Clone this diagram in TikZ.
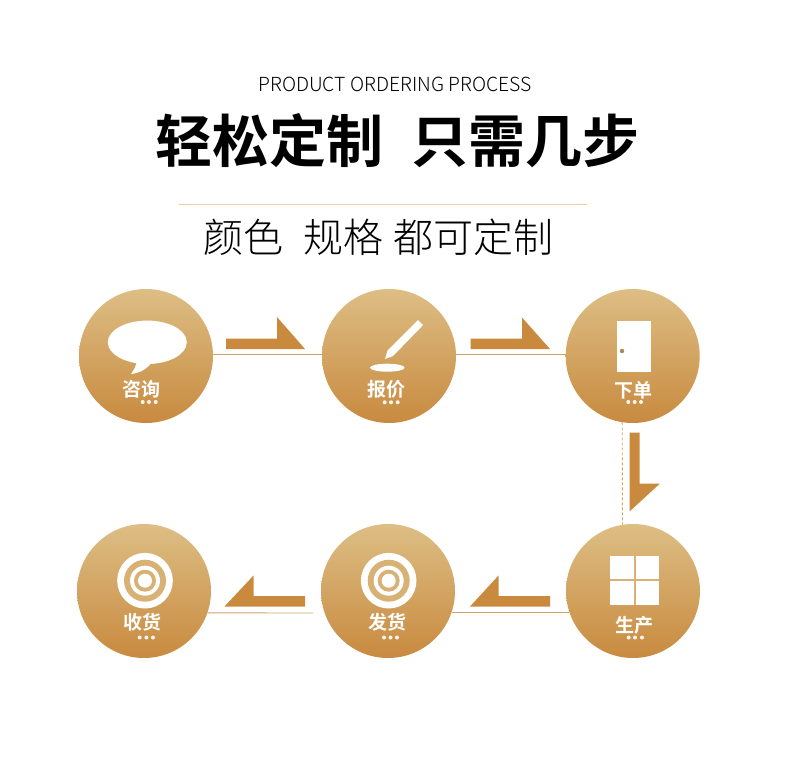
\documentclass[tikz,border=0pt]{standalone}
\usepackage{fontspec}
\setmainfont{Noto Sans CJK SC Light}
\newfontfamily\cjkbold{Noto Sans CJK SC Bold}
\usetikzlibrary{positioning}
\definecolor{goldtop}{HTML}{DDBE85}
\definecolor{goldbottom}{HTML}{C88A3F}
\definecolor{arrowgold}{HTML}{C98A3E}
\definecolor{linegold}{HTML}{CFA364}
\definecolor{rulegold}{HTML}{E6CFA6}
\tikzset{
  stepdisc/.style={circle,minimum size=134pt,inner sep=0pt,top color=goldtop,bottom color=goldbottom},
  steplabel/.style={text=white,font=\cjkbold\fontsize{19}{19}\selectfont,inner sep=0pt},
  icon/.style={fill=white,draw=none},
  dot/.style={fill=white,opacity=.9},
  thinline/.style={draw=linegold,line width=.9pt},
  turnarrow/.style={fill=arrowgold,draw=none},
  ringgold/.style={fill=goldtop!75!goldbottom}
}
\begin{document}
\begin{tikzpicture}[x=1pt,y=-1pt]
\useasboundingbox (0,0) rectangle (790,762);

% heading
\node[inner sep=0pt] (subtitle) at (395,84) {\fontsize{19.4}{19}\selectfont PRODUCT ORDERING PROCESS};
\node[inner sep=0pt,font=\cjkbold\fontsize{57}{57}\selectfont] (titleleft) at (269,141) {轻松定制};
\node[inner sep=0pt,font=\cjkbold\fontsize{57}{57}\selectfont] (titleright) at (525.5,141) {只需几步};
\coordinate (ruleleft) at (179,204.5);
\coordinate (ruleright) at (587,204.5);
\draw[draw=rulegold,line width=.8pt] (ruleleft) -- (ruleright);
\node[inner sep=0pt,font=\fontsize{40}{40}\selectfont] (colour) at (243.5,237) {颜色};
\node[inner sep=0pt,font=\fontsize{40}{40}\selectfont] (spec) at (343,237) {规格};
\node[inner sep=0pt,font=\fontsize{40}{40}\selectfont] (custom) at (473,237) {都可定制};

% discs
\node[stepdisc] (ask) at (146,356) {};
\node[stepdisc] (quote) at (389,356) {};
\node[stepdisc] (order) at (632.7,356) {};
\node[stepdisc] (make) at (633,591) {};
\node[stepdisc] (send) at (388,591) {};
\node[stepdisc] (receive) at (144,591) {};

% connectors
\coordinate (sendstop) at (313,613);
\draw[thinline] (ask.1) -- (quote.179);
\draw[thinline] (quote.1) -- (order.179);
\draw[thinline,densely dashed] (order.-99) -- (make.99);
\draw[thinline] (make.199) -- (send.-19);
\draw[thinline] (sendstop) -- (receive.-19);

% arrows
\fill[turnarrow] (226,338.5) -- (277,338.5) -- (277,317) -- (305,349) -- (226,349) -- cycle;
\fill[turnarrow] (470.5,338.5) -- (522,338.5) -- (522,317.5) -- (550,349) -- (470.5,349) -- cycle;
\fill[turnarrow] (639.5,432.5) -- (639.5,483.5) -- (660,483.5) -- (629.5,511.5) -- (629.5,432.5) -- cycle;
\fill[turnarrow] (550,596) -- (498.5,596) -- (498.5,575.5) -- (470,606.5) -- (550,606.5) -- cycle;
\fill[turnarrow] (305,596) -- (253.5,596) -- (253.5,575.5) -- (224.5,606.5) -- (305,606.5) -- cycle;

% speech bubble
\fill[icon] (147.3,342.3) ellipse (39.5 and 21.7);
\fill[icon] (137,358) .. controls (137,365) and (134,370) .. (131,374) .. controls (140,373) and (147,369) .. (152,362) -- cycle;
\node[steplabel] (asklabel) at (141,389) {咨询};
\fill[dot] (142.7,402) circle (2);
\fill[dot] (149,402) circle (2);
\fill[dot] (155.7,402) circle (2);

% pen
\fill[icon] (385,359) -- (387.5,350.5) -- (418,320.2) -- (423,325.2) -- (393,356) -- cycle;
\fill[icon] (387.3,367.7) ellipse (17.3 and 4);
\node[steplabel] (quotelabel) at (386.7,389.3) {报价};
\fill[dot] (384.7,402.3) circle (2);
\fill[dot] (391,402.3) circle (2);
\fill[dot] (397.7,402.3) circle (2);

% door
\fill[icon] (617,321) rectangle (651,372);
\fill[goldbottom!60!gray] (622,351) circle (2.2);
\node[steplabel] (orderlabel) at (633.3,390) {下单};
\fill[dot] (628.3,402) circle (2);
\fill[dot] (634.7,402) circle (2);
\fill[dot] (641,402) circle (2);

% window
\fill[icon] (610,555.7) rectangle (659.3,605);
\fill[goldtop!75!goldbottom] (633.8,555.7) rectangle (635.6,605);
\fill[goldtop!75!goldbottom] (610,579.4) rectangle (659.3,581.2);
\node[steplabel] (makelabel) at (634,625) {生产};
\fill[dot] (628.7,637.5) circle (2);
\fill[dot] (635,637.5) circle (2);
\fill[dot] (642,637.5) circle (2);

% targets
\fill[icon] (388.7,580.7) circle (27.8);
\fill[ringgold] (388.7,580.7) circle (21);
\fill[icon] (388.7,580.7) circle (15);
\fill[ringgold] (388.7,580.7) circle (11);
\fill[icon] (388.7,580.7) circle (7);
\node[steplabel] (sendlabel) at (387.7,622.3) {发货};
\fill[dot] (384,637.5) circle (2);
\fill[dot] (390.5,637.5) circle (2);
\fill[dot] (397,637.5) circle (2);

\fill[icon] (145,580.7) circle (27.8);
\fill[ringgold] (145,580.7) circle (21);
\fill[icon] (145,580.7) circle (15);
\fill[ringgold] (145,580.7) circle (11);
\fill[icon] (145,580.7) circle (7);
\node[steplabel] (receivelabel) at (142.7,622.3) {收货};
\fill[dot] (139.7,637.5) circle (2);
\fill[dot] (146.4,637.5) circle (2);
\fill[dot] (153,637.5) circle (2);
\end{tikzpicture}
\end{document}
